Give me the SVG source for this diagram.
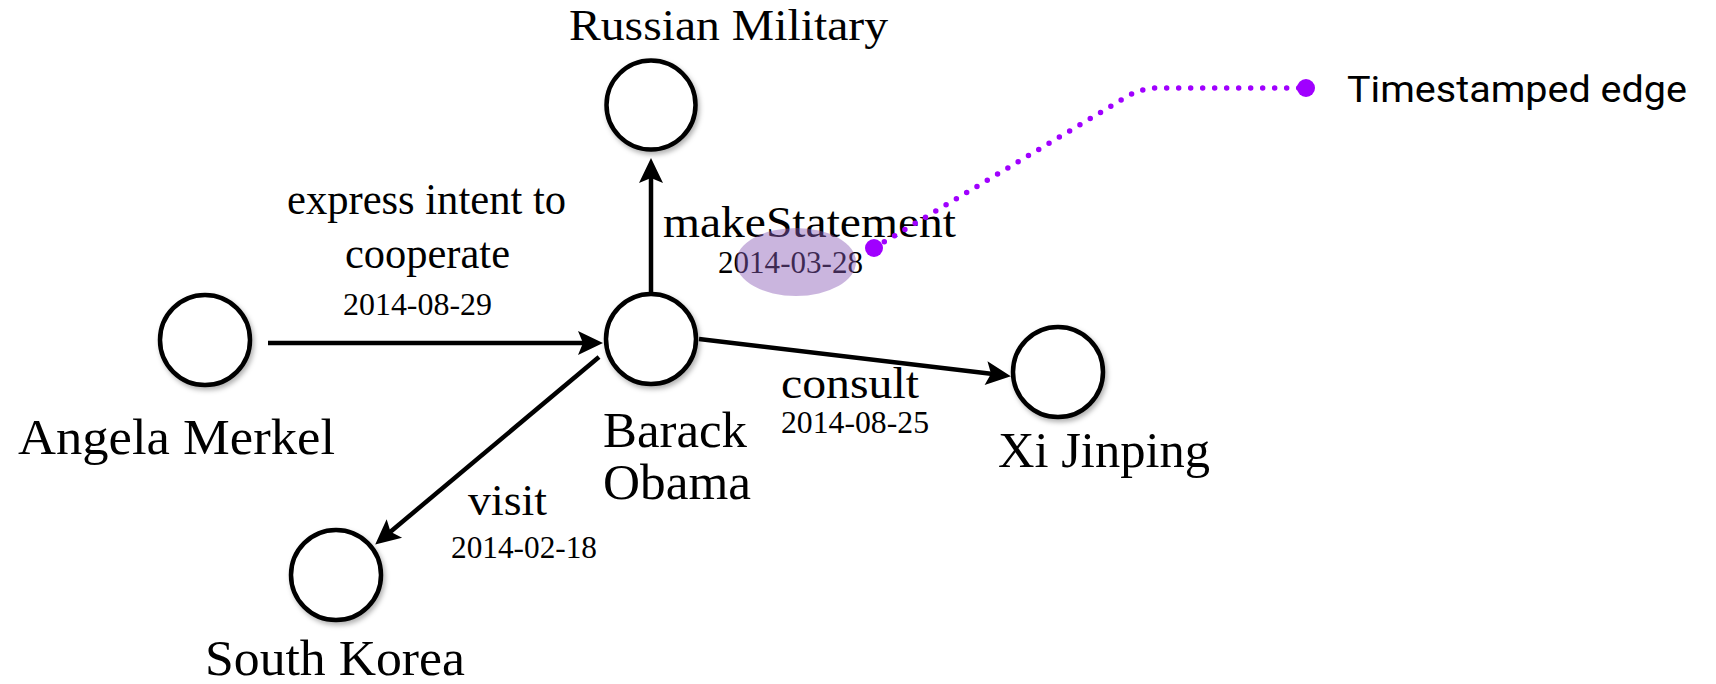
<svg xmlns="http://www.w3.org/2000/svg" width="1716" height="684" viewBox="0 0 1716 684">
  <defs>
    <style>
      .node circle { fill: #ffffff; stroke: #000000; stroke-width: 4.5; filter: url(#shadow); }
      .lbl { font-family: "Liberation Serif", "Times New Roman", serif; fill: #000000; }
      .nlbl { font-size: 51px; }
      .top { font-size: 45px; }
      .elbl { font-size: 45px; }
      .date { font-size: 32px; }
      .edge { fill: none; stroke: #000000; stroke-width: 4.5; marker-end: url(#arrow); }
      .ts { fill: none; stroke: #a000ff; stroke-width: 5.5; stroke-linecap: round; stroke-dasharray: 0 12; }
      .tsdot { fill: #a000ff; }
      .legend { font-family: Roboto, "Liberation Sans", sans-serif; font-size: 37px; fill: #000000; }
    </style>
    <filter id="shadow" x="-30%" y="-30%" width="170%" height="170%">
      <feDropShadow dx="2" dy="3" stdDeviation="2.5" flood-color="#000000" flood-opacity="0.3"/>
    </filter>
    <marker id="arrow" markerUnits="userSpaceOnUse" markerWidth="40" markerHeight="40" refX="0" refY="0" orient="auto" overflow="visible">
      <path d="M18,0 L-7,-12 L-2,0 L-7,12 Z" fill="#000000"/>
    </marker>
  </defs>

  <rect width="1716" height="684" fill="#ffffff"/>

  <!-- connectors with their labels -->
  <g id="connectors">
    <path class="edge" d="M268,343 L585,343"/>
    <path class="edge" d="M651,292 L651,176"/>
    <path class="edge" d="M699,339 L993,374"/>
    <path class="edge" d="M599,357 L389,533"/>

    <text class="lbl elbl" x="287" y="214" textLength="279" lengthAdjust="spacingAndGlyphs">express intent to</text>
    <text class="lbl elbl" x="345" y="268" textLength="165" lengthAdjust="spacingAndGlyphs">cooperate</text>
    <text class="lbl date" x="343" y="315" textLength="149" lengthAdjust="spacingAndGlyphs">2014-08-29</text>

    <text class="lbl elbl" x="663" y="237" textLength="293" lengthAdjust="spacingAndGlyphs">makeStatement</text>
    <text class="lbl date" x="718" y="273" textLength="145" lengthAdjust="spacingAndGlyphs">2014-03-28</text>

    <text class="lbl elbl" x="781" y="398" textLength="138" lengthAdjust="spacingAndGlyphs">consult</text>
    <text class="lbl date" x="781" y="433" textLength="148" lengthAdjust="spacingAndGlyphs">2014-08-25</text>

    <text class="lbl elbl" x="468" y="515" textLength="79" lengthAdjust="spacingAndGlyphs">visit</text>
    <text class="lbl date" x="451" y="558" textLength="146" lengthAdjust="spacingAndGlyphs">2014-02-18</text>
  </g>

  <!-- nodes -->
  <g id="russian-military" class="node">
    <circle cx="651" cy="105" r="44.5"/>
    <text class="lbl top" x="569" y="40" textLength="319" lengthAdjust="spacingAndGlyphs">Russian Military</text>
  </g>
  <g id="angela-merkel" class="node">
    <circle cx="205" cy="340" r="45"/>
    <text class="lbl nlbl" x="18" y="454" textLength="317" lengthAdjust="spacingAndGlyphs">Angela Merkel</text>
  </g>
  <g id="barack-obama" class="node">
    <circle cx="651" cy="339" r="45"/>
    <text class="lbl nlbl" x="603" y="447" textLength="144" lengthAdjust="spacingAndGlyphs">Barack</text>
    <text class="lbl nlbl" x="603" y="499" textLength="148" lengthAdjust="spacingAndGlyphs">Obama</text>
  </g>
  <g id="xi-jinping" class="node">
    <circle cx="1058" cy="372" r="45"/>
    <text class="lbl nlbl" x="998" y="467" textLength="212" lengthAdjust="spacingAndGlyphs">Xi Jinping</text>
  </g>
  <g id="south-korea" class="node">
    <circle cx="336" cy="575" r="45"/>
    <text class="lbl nlbl" x="205" y="675" textLength="260" lengthAdjust="spacingAndGlyphs">South Korea</text>
  </g>

  <!-- highlight over the makeStatement timestamp and its callout -->
  <g id="timestamp-callout">
    <ellipse cx="796" cy="262" rx="60" ry="34" fill="#8a5cb5" fill-opacity="0.45"/>
    <path class="ts" d="M874,248 L1128,96 Q1142,88 1158,88 L1306,88"/>
    <circle class="tsdot" cx="874" cy="248" r="9"/>
    <circle class="tsdot" cx="1306" cy="88" r="9"/>
    <text class="legend" x="1347" y="102" textLength="340" lengthAdjust="spacingAndGlyphs">Timestamped edge</text>
  </g>
</svg>
